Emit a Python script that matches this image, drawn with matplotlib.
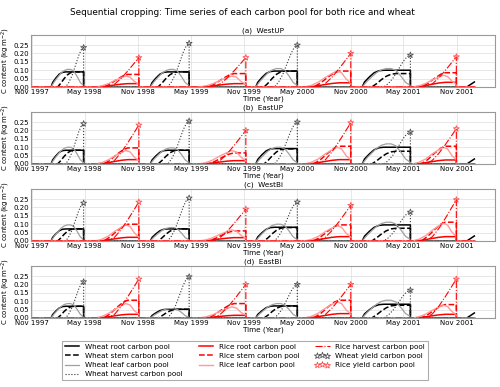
"""
Sequential cropping: time series of each carbon pool for rice and wheat
"""

import numpy as np
import matplotlib
matplotlib.use('Agg')
import matplotlib.pyplot as plt
import matplotlib.dates as mdates

# pylint: disable=C0103

PANELS = ['(a)  WestUP', '(b)  EastUP', '(c)  WestBi', '(d)  EastBi']

# season dates (sowing / harvest)
WHEAT_START = ['1998-01-05', '1998-12-12', '1999-12-10', '2000-12-10']
WHEAT_HARVEST = ['1998-04-27', '1999-04-25', '2000-05-01', '2001-05-25']
RICE_START = ['1998-06-05', '1999-05-28', '2000-05-25', '2001-06-01']
RICE_HARVEST = ['1998-11-03', '1999-11-06', '2000-11-01', '2001-10-30']
# beginning of the last wheat season (data stop at end of 2001)
WHEAT_LAST_DATES = ['2001-12-05', '2001-12-31']
WHEAT_LAST_ROOT = [0.0, 0.03]
DATA_BEGIN = '1997-11-01'
DATA_END = '2002-01-01'

# season shapes: fraction of season -> fraction of peak
WHEAT_ROOT_T = [0.0, 0.05, 0.15, 0.25, 0.35, 0.45, 1.0]
WHEAT_ROOT_V = [0.0, 0.30, 0.60, 0.85, 0.97, 1.0, 1.0]
WHEAT_STEM_T = [0.2, 0.3, 0.4, 0.5, 0.6, 0.7, 1.0]
WHEAT_STEM_V = [0.0, 0.25, 0.55, 0.80, 0.95, 1.0, 1.0]
WHEAT_LEAF_T = [0.0, 0.1, 0.2, 0.3, 0.4, 0.5, 0.6, 0.7, 0.8, 0.9, 1.0]
WHEAT_LEAF_V = [0.0, 0.30, 0.55, 0.78, 0.93, 1.0, 1.0, 0.90, 0.60, 0.25, 0.08]
WHEAT_HARV_T = [0.45, 0.55, 0.65, 0.75, 0.85, 0.93, 1.0]
WHEAT_HARV_V = [0.0, 0.12, 0.30, 0.55, 0.80, 0.95, 1.0]

RICE_ROOT_T = [0.0, 0.2, 0.4, 0.6, 0.75, 1.0]
RICE_ROOT_V = [0.0, 0.15, 0.50, 0.85, 1.0, 1.0]
RICE_STEM_T = [0.2, 0.35, 0.5, 0.65, 0.75, 1.0]
RICE_STEM_V = [0.0, 0.25, 0.60, 0.90, 1.0, 1.0]
RICE_LEAF_T = [0.0, 0.15, 0.3, 0.45, 0.6, 0.7, 0.8, 0.9, 1.0]
RICE_LEAF_V = [0.0, 0.10, 0.30, 0.60, 0.85, 1.0, 0.90, 0.50, 0.25]
RICE_HARV_T = [0.3, 0.45, 0.6, 0.75, 0.9, 1.0]
RICE_HARV_V = [0.0, 0.10, 0.30, 0.55, 0.82, 1.0]

# peak values, one row per panel, one column per season (kg m-2)
WHEAT_ROOT = [[0.090, 0.090, 0.095, 0.100],
              [0.082, 0.082, 0.092, 0.100],
              [0.072, 0.072, 0.082, 0.096],
              [0.070, 0.052, 0.072, 0.082]]
WHEAT_STEM = [[0.090, 0.090, 0.095, 0.080],
              [0.082, 0.082, 0.090, 0.076],
              [0.072, 0.072, 0.080, 0.076],
              [0.070, 0.052, 0.072, 0.076]]
WHEAT_LEAF = [[0.105, 0.105, 0.110, 0.110],
              [0.100, 0.096, 0.100, 0.120],
              [0.096, 0.080, 0.100, 0.112],
              [0.086, 0.056, 0.086, 0.106]]
WHEAT_YIELD = [[0.235, 0.260, 0.250, 0.190],
               [0.240, 0.256, 0.250, 0.190],
               [0.226, 0.256, 0.232, 0.172],
               [0.216, 0.246, 0.200, 0.166]]
RICE_ROOT = [[0.020, 0.020, 0.025, 0.028],
             [0.026, 0.020, 0.026, 0.024],
             [0.022, 0.020, 0.026, 0.026],
             [0.022, 0.016, 0.026, 0.022]]
RICE_STEM = [[0.075, 0.080, 0.095, 0.085],
             [0.096, 0.066, 0.106, 0.106],
             [0.100, 0.060, 0.096, 0.112],
             [0.106, 0.086, 0.106, 0.080]]
RICE_LEAF = [[0.065, 0.065, 0.095, 0.070],
             [0.080, 0.080, 0.100, 0.100],
             [0.096, 0.066, 0.092, 0.106],
             [0.086, 0.066, 0.096, 0.076]]
RICE_YIELD = [[0.175, 0.175, 0.200, 0.180],
              [0.232, 0.200, 0.246, 0.210],
              [0.232, 0.190, 0.212, 0.246],
              [0.232, 0.200, 0.200, 0.232]]

XTICKS = ['1997-11-01', '1998-05-01', '1998-11-01', '1999-05-01', '1999-11-01',
          '2000-05-01', '2000-11-01', '2001-05-01', '2001-11-01']
XTICK_LABELS = ['Nov 1997', 'May 1998', 'Nov 1998', 'May 1999', 'Nov 1999',
                'May 2000', 'Nov 2000', 'May 2001', 'Nov 2001']


def d(s):
    return mdates.datestr2num(s)


def build_series(starts, harvests, shape_t, shape_v, peaks, tail=None):
    """
    Собрать ряд: нули между сезонами, форма сезона, обрыв при уборке
    """
    xs = [d(DATA_BEGIN)]
    ys = [0.0]
    for s, h, p in zip(starts, harvests, peaks):
        s, h = d(s), d(h)
        xs.append(s)
        ys.append(0.0)
        for t, v in zip(shape_t, shape_v):
            xs.append(s + t * (h - s))
            ys.append(v * p)
        xs.append(h)
        ys.append(0.0)
    if tail is not None:
        for td, tv in zip(*tail):
            xs.append(d(td))
            ys.append(tv)
    else:
        xs.append(d(DATA_END))
        ys.append(0.0)
    return xs, ys


fig = plt.figure(figsize=(5.0, 3.87), dpi=100)
FS = 5.2

fig.text(0.485, 0.968, 'Sequential cropping: Time series of each carbon pool '
         'for both rice and wheat', ha='center', va='center', fontsize=6.4)

W, H = 500.0, 387.0
left, right = 31, 495
tops = [35, 112, 189, 266]
height = 52

for i, name in enumerate(PANELS):
    top = tops[i]
    ax = fig.add_axes([left / W, 1 - (top + height) / H,
                       (right - left) / W, height / H])
    # пшеница
    ax.plot(*build_series(WHEAT_START, WHEAT_HARVEST, WHEAT_ROOT_T, WHEAT_ROOT_V,
                          WHEAT_ROOT[i], tail=(WHEAT_LAST_DATES, WHEAT_LAST_ROOT)),
            color='black', lw=1.1, ls='-', label='Wheat root carbon pool')
    ax.plot(*build_series(WHEAT_START, WHEAT_HARVEST, WHEAT_STEM_T, WHEAT_STEM_V,
                          WHEAT_STEM[i]),
            color='black', lw=1.1, ls='--', label='Wheat stem carbon pool')
    ax.plot(*build_series(WHEAT_START, WHEAT_HARVEST, WHEAT_LEAF_T, WHEAT_LEAF_V,
                          WHEAT_LEAF[i]),
            color='#a0a0a0', lw=0.9, ls='-', label='Wheat leaf carbon pool')
    ax.plot(*build_series(WHEAT_START, WHEAT_HARVEST, WHEAT_HARV_T, WHEAT_HARV_V,
                          WHEAT_YIELD[i]),
            color='#333333', lw=0.8, ls=':', label='Wheat harvest carbon pool')
    # рис
    ax.plot(*build_series(RICE_START, RICE_HARVEST, RICE_ROOT_T, RICE_ROOT_V,
                          RICE_ROOT[i]),
            color='red', lw=1.1, ls='-', label='Rice root carbon pool')
    ax.plot(*build_series(RICE_START, RICE_HARVEST, RICE_STEM_T, RICE_STEM_V,
                          RICE_STEM[i]),
            color='red', lw=1.1, ls='--', label='Rice stem carbon pool')
    ax.plot(*build_series(RICE_START, RICE_HARVEST, RICE_LEAF_T, RICE_LEAF_V,
                          RICE_LEAF[i]),
            color='#ff9a9a', lw=1.0, ls='-', label='Rice leaf carbon pool')
    ax.plot(*build_series(RICE_START, RICE_HARVEST, RICE_HARV_T, RICE_HARV_V,
                          RICE_YIELD[i]),
            color='red', lw=0.8, ls='-.', label='Rice harvest carbon pool')
    # урожай
    ax.scatter([d(h) for h in WHEAT_HARVEST], WHEAT_YIELD[i], marker='*', s=20,
               facecolor='none', edgecolor='#555555', lw=0.6,
               label='Wheat yield carbon pool', zorder=5)
    ax.scatter([d(h) for h in RICE_HARVEST], RICE_YIELD[i], marker='*', s=20,
               facecolor='none', edgecolor='#ff5050', lw=0.6,
               label='Rice yield carbon pool', zorder=5)

    ax.set_xlim(d('1997-10-28'), d('2002-03-12'))
    ax.set_ylim(0, 0.31)
    ax.set_yticks([0.0, 0.05, 0.10, 0.15, 0.20, 0.25])
    ax.set_yticklabels(['0.00', '0.05', '0.10', '0.15', '0.20', '0.25'])
    ax.set_xticks([d(x) for x in XTICKS])
    ax.set_xticklabels(XTICK_LABELS)
    ax.tick_params(length=0, pad=1.5, labelsize=5.0)
    ax.grid(True, color='#dddddd', lw=0.5)
    ax.set_axisbelow(True)
    for sp in ax.spines.values():
        sp.set_color('#999999')
        sp.set_linewidth(0.8)
    ax.set_title(name, fontsize=FS, pad=1.5)
    ax.set_xlabel('Time (Year)', fontsize=FS, labelpad=0.5)
    ax.set_ylabel('C content (kg$\\,$m$^{-2}$)', fontsize=5.0, labelpad=1)
    last_ax = ax

handles, labels = last_ax.get_legend_handles_labels()
leg = fig.legend(handles, labels, loc='upper center', ncol=3,
                 bbox_to_anchor=(245 / W, 1 - 337 / H), fontsize=FS,
                 frameon=True, fancybox=False, columnspacing=2.2,
                 handlelength=2.0, labelspacing=0.45, scatterpoints=3,
                 borderpad=0.4)
leg.get_frame().set_edgecolor('#999999')
leg.get_frame().set_linewidth(0.8)

fig.savefig('out.png', dpi=100)
